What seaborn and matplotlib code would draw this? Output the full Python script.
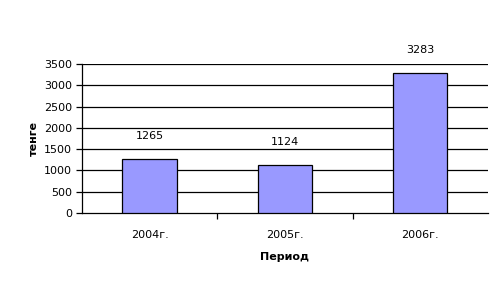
import matplotlib
matplotlib.use("Agg")
import matplotlib.pyplot as plt
import seaborn as sns
import pandas as pd

categories = ["2004г.", "2005г.", "2006г."]
values = [1265, 1124, 3283]
yticks = [0, 500, 1000, 1500, 2000, 2500, 3000, 3500]

sns.set_theme(style="white")
plt.rcParams['font.family'] = ['DejaVu Sans']
plt.rcParams['text.color'] = 'black'
plt.rcParams['axes.labelcolor'] = 'black'
plt.rcParams['xtick.color'] = 'black'
plt.rcParams['ytick.color'] = 'black'

df = pd.DataFrame({"Период": categories, "тенге": values})

fig = plt.figure(figsize=(5.02, 2.88), dpi=100)
ax = fig.add_axes([0.163, 0.260, 0.809, 0.518])
sns.barplot(data=df, x="Период", y="тенге", color="#9999FF", saturation=1,
            width=0.4, edgecolor="black", linewidth=0.9, ax=ax, zorder=3)

ax.set_ylim(0, 3500)
ax.set_xlim(-0.5, 2.5)
ax.set_yticks(yticks)
ax.set_yticklabels([str(t) for t in yticks], fontsize=8)
for y in yticks[1:]:
    ax.axhline(y, color="black", linewidth=0.9, zorder=1)

ax.set_xticks(range(len(categories)))
ax.set_xticklabels(categories, fontsize=8)
ax.tick_params(axis="x", length=0, pad=12)
ax.tick_params(axis="y", left=True, length=4, width=0.9, color="black", pad=3)
ax.set_xticks([0.5, 1.5], minor=True)
ax.tick_params(axis="x", which="minor", bottom=True, length=4, width=0.9, color="black")

for s in ["top", "right"]:
    ax.spines[s].set_visible(False)
for s in ["left", "bottom"]:
    ax.spines[s].set_color("black")
    ax.spines[s].set_linewidth(0.9)

for i, v in enumerate(values):
    ax.annotate(str(v), (i, v), xytext=(0, 13), textcoords="offset points",
                ha="center", va="bottom", fontsize=8, color="black")

ax.set_xlabel("Период", fontsize=8, fontweight="bold", labelpad=9)
ax.set_ylabel("тенге", fontsize=8, fontweight="bold", labelpad=4)

fig.savefig("out.png", dpi=100, facecolor="white")
